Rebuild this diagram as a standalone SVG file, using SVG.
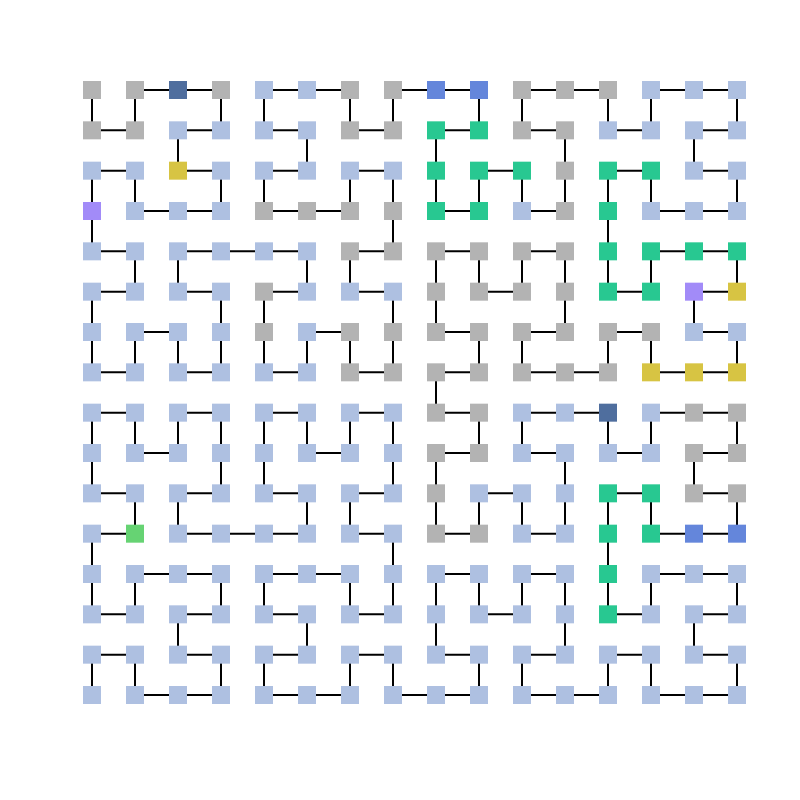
<svg xmlns="http://www.w3.org/2000/svg" width="800" height="800" viewBox="0 0 800 800">
<style>
#edges line{stroke:#000;stroke-width:2}
rect{width:18px;height:18px}
.G{fill:#b3b3b3}.L{fill:#aec0e1}.D{fill:#4f6e9e}.B{fill:#6486db}.T{fill:#28c891}.Y{fill:#d7c443}.P{fill:#a28bf8}.E{fill:#66d373}
</style>
<rect width="800" height="800" fill="#fff" style="width:800px;height:800px"/>
<g id="edges">
<line x1="135" y1="90" x2="178" y2="90"/><line x1="178" y1="90" x2="221" y2="90"/><line x1="264" y1="90" x2="307" y2="90"/><line x1="307" y1="90" x2="350" y2="90"/><line x1="393" y1="90" x2="436" y2="90"/><line x1="436" y1="90" x2="479" y2="90"/><line x1="522" y1="90" x2="565" y2="90"/><line x1="565" y1="90" x2="608" y2="90"/><line x1="651" y1="90" x2="694" y2="90"/><line x1="694" y1="90" x2="737" y2="90"/>
<line x1="92" y1="130.33" x2="135" y2="130.33"/><line x1="178" y1="130.33" x2="221" y2="130.33"/><line x1="264" y1="130.33" x2="307" y2="130.33"/><line x1="350" y1="130.33" x2="393" y2="130.33"/><line x1="436" y1="130.33" x2="479" y2="130.33"/><line x1="522" y1="130.33" x2="565" y2="130.33"/><line x1="608" y1="130.33" x2="651" y2="130.33"/><line x1="694" y1="130.33" x2="737" y2="130.33"/>
<line x1="92" y1="170.67" x2="135" y2="170.67"/><line x1="178" y1="170.67" x2="221" y2="170.67"/><line x1="264" y1="170.67" x2="307" y2="170.67"/><line x1="350" y1="170.67" x2="393" y2="170.67"/><line x1="479" y1="170.67" x2="522" y2="170.67"/><line x1="608" y1="170.67" x2="651" y2="170.67"/><line x1="694" y1="170.67" x2="737" y2="170.67"/>
<line x1="135" y1="211" x2="178" y2="211"/><line x1="178" y1="211" x2="221" y2="211"/><line x1="264" y1="211" x2="307" y2="211"/><line x1="307" y1="211" x2="350" y2="211"/><line x1="436" y1="211" x2="479" y2="211"/><line x1="522" y1="211" x2="565" y2="211"/><line x1="651" y1="211" x2="694" y2="211"/><line x1="694" y1="211" x2="737" y2="211"/>
<line x1="92" y1="251.33" x2="135" y2="251.33"/><line x1="178" y1="251.33" x2="221" y2="251.33"/><line x1="221" y1="251.33" x2="264" y2="251.33"/><line x1="264" y1="251.33" x2="307" y2="251.33"/><line x1="350" y1="251.33" x2="393" y2="251.33"/><line x1="436" y1="251.33" x2="479" y2="251.33"/><line x1="522" y1="251.33" x2="565" y2="251.33"/><line x1="651" y1="251.33" x2="694" y2="251.33"/><line x1="694" y1="251.33" x2="737" y2="251.33"/>
<line x1="92" y1="291.67" x2="135" y2="291.67"/><line x1="178" y1="291.67" x2="221" y2="291.67"/><line x1="264" y1="291.67" x2="307" y2="291.67"/><line x1="350" y1="291.67" x2="393" y2="291.67"/><line x1="479" y1="291.67" x2="522" y2="291.67"/><line x1="608" y1="291.67" x2="651" y2="291.67"/><line x1="694" y1="291.67" x2="737" y2="291.67"/>
<line x1="135" y1="332" x2="178" y2="332"/><line x1="307" y1="332" x2="350" y2="332"/><line x1="436" y1="332" x2="479" y2="332"/><line x1="522" y1="332" x2="565" y2="332"/><line x1="608" y1="332" x2="651" y2="332"/><line x1="694" y1="332" x2="737" y2="332"/>
<line x1="92" y1="372.33" x2="135" y2="372.33"/><line x1="178" y1="372.33" x2="221" y2="372.33"/><line x1="264" y1="372.33" x2="307" y2="372.33"/><line x1="350" y1="372.33" x2="393" y2="372.33"/><line x1="436" y1="372.33" x2="479" y2="372.33"/><line x1="522" y1="372.33" x2="565" y2="372.33"/><line x1="565" y1="372.33" x2="608" y2="372.33"/><line x1="651" y1="372.33" x2="694" y2="372.33"/><line x1="694" y1="372.33" x2="737" y2="372.33"/>
<line x1="92" y1="412.67" x2="135" y2="412.67"/><line x1="178" y1="412.67" x2="221" y2="412.67"/><line x1="264" y1="412.67" x2="307" y2="412.67"/><line x1="350" y1="412.67" x2="393" y2="412.67"/><line x1="436" y1="412.67" x2="479" y2="412.67"/><line x1="522" y1="412.67" x2="565" y2="412.67"/><line x1="565" y1="412.67" x2="608" y2="412.67"/><line x1="651" y1="412.67" x2="694" y2="412.67"/><line x1="694" y1="412.67" x2="737" y2="412.67"/>
<line x1="135" y1="453" x2="178" y2="453"/><line x1="307" y1="453" x2="350" y2="453"/><line x1="436" y1="453" x2="479" y2="453"/><line x1="522" y1="453" x2="565" y2="453"/><line x1="608" y1="453" x2="651" y2="453"/><line x1="694" y1="453" x2="737" y2="453"/>
<line x1="92" y1="493.33" x2="135" y2="493.33"/><line x1="178" y1="493.33" x2="221" y2="493.33"/><line x1="264" y1="493.33" x2="307" y2="493.33"/><line x1="350" y1="493.33" x2="393" y2="493.33"/><line x1="479" y1="493.33" x2="522" y2="493.33"/><line x1="608" y1="493.33" x2="651" y2="493.33"/><line x1="694" y1="493.33" x2="737" y2="493.33"/>
<line x1="92" y1="533.67" x2="135" y2="533.67"/><line x1="178" y1="533.67" x2="221" y2="533.67"/><line x1="221" y1="533.67" x2="264" y2="533.67"/><line x1="264" y1="533.67" x2="307" y2="533.67"/><line x1="350" y1="533.67" x2="393" y2="533.67"/><line x1="436" y1="533.67" x2="479" y2="533.67"/><line x1="522" y1="533.67" x2="565" y2="533.67"/><line x1="651" y1="533.67" x2="694" y2="533.67"/><line x1="694" y1="533.67" x2="737" y2="533.67"/>
<line x1="135" y1="574" x2="178" y2="574"/><line x1="178" y1="574" x2="221" y2="574"/><line x1="264" y1="574" x2="307" y2="574"/><line x1="307" y1="574" x2="350" y2="574"/><line x1="436" y1="574" x2="479" y2="574"/><line x1="522" y1="574" x2="565" y2="574"/><line x1="651" y1="574" x2="694" y2="574"/><line x1="694" y1="574" x2="737" y2="574"/>
<line x1="92" y1="614.33" x2="135" y2="614.33"/><line x1="178" y1="614.33" x2="221" y2="614.33"/><line x1="264" y1="614.33" x2="307" y2="614.33"/><line x1="350" y1="614.33" x2="393" y2="614.33"/><line x1="479" y1="614.33" x2="522" y2="614.33"/><line x1="608" y1="614.33" x2="651" y2="614.33"/><line x1="694" y1="614.33" x2="737" y2="614.33"/>
<line x1="92" y1="654.67" x2="135" y2="654.67"/><line x1="178" y1="654.67" x2="221" y2="654.67"/><line x1="264" y1="654.67" x2="307" y2="654.67"/><line x1="350" y1="654.67" x2="393" y2="654.67"/><line x1="436" y1="654.67" x2="479" y2="654.67"/><line x1="522" y1="654.67" x2="565" y2="654.67"/><line x1="608" y1="654.67" x2="651" y2="654.67"/><line x1="694" y1="654.67" x2="737" y2="654.67"/>
<line x1="135" y1="695" x2="178" y2="695"/><line x1="178" y1="695" x2="221" y2="695"/><line x1="264" y1="695" x2="307" y2="695"/><line x1="307" y1="695" x2="350" y2="695"/><line x1="393" y1="695" x2="436" y2="695"/><line x1="436" y1="695" x2="479" y2="695"/><line x1="522" y1="695" x2="565" y2="695"/><line x1="565" y1="695" x2="608" y2="695"/><line x1="651" y1="695" x2="694" y2="695"/><line x1="694" y1="695" x2="737" y2="695"/>
<line x1="92" y1="90" x2="92" y2="130.33"/><line x1="135" y1="90" x2="135" y2="130.33"/><line x1="221" y1="90" x2="221" y2="130.33"/><line x1="264" y1="90" x2="264" y2="130.33"/><line x1="350" y1="90" x2="350" y2="130.33"/><line x1="393" y1="90" x2="393" y2="130.33"/><line x1="479" y1="90" x2="479" y2="130.33"/><line x1="522" y1="90" x2="522" y2="130.33"/><line x1="608" y1="90" x2="608" y2="130.33"/><line x1="651" y1="90" x2="651" y2="130.33"/><line x1="737" y1="90" x2="737" y2="130.33"/>
<line x1="178" y1="130.33" x2="178" y2="170.67"/><line x1="307" y1="130.33" x2="307" y2="170.67"/><line x1="436" y1="130.33" x2="436" y2="170.67"/><line x1="565" y1="130.33" x2="565" y2="170.67"/><line x1="694" y1="130.33" x2="694" y2="170.67"/>
<line x1="92" y1="170.67" x2="92" y2="211"/><line x1="135" y1="170.67" x2="135" y2="211"/><line x1="221" y1="170.67" x2="221" y2="211"/><line x1="264" y1="170.67" x2="264" y2="211"/><line x1="350" y1="170.67" x2="350" y2="211"/><line x1="393" y1="170.67" x2="393" y2="211"/><line x1="436" y1="170.67" x2="436" y2="211"/><line x1="479" y1="170.67" x2="479" y2="211"/><line x1="522" y1="170.67" x2="522" y2="211"/><line x1="565" y1="170.67" x2="565" y2="211"/><line x1="608" y1="170.67" x2="608" y2="211"/><line x1="651" y1="170.67" x2="651" y2="211"/><line x1="737" y1="170.67" x2="737" y2="211"/>
<line x1="92" y1="211" x2="92" y2="251.33"/><line x1="393" y1="211" x2="393" y2="251.33"/><line x1="608" y1="211" x2="608" y2="251.33"/>
<line x1="135" y1="251.33" x2="135" y2="291.67"/><line x1="178" y1="251.33" x2="178" y2="291.67"/><line x1="307" y1="251.33" x2="307" y2="291.67"/><line x1="350" y1="251.33" x2="350" y2="291.67"/><line x1="436" y1="251.33" x2="436" y2="291.67"/><line x1="479" y1="251.33" x2="479" y2="291.67"/><line x1="522" y1="251.33" x2="522" y2="291.67"/><line x1="565" y1="251.33" x2="565" y2="291.67"/><line x1="608" y1="251.33" x2="608" y2="291.67"/><line x1="651" y1="251.33" x2="651" y2="291.67"/><line x1="737" y1="251.33" x2="737" y2="291.67"/>
<line x1="92" y1="291.67" x2="92" y2="332"/><line x1="221" y1="291.67" x2="221" y2="332"/><line x1="264" y1="291.67" x2="264" y2="332"/><line x1="393" y1="291.67" x2="393" y2="332"/><line x1="436" y1="291.67" x2="436" y2="332"/><line x1="565" y1="291.67" x2="565" y2="332"/><line x1="694" y1="291.67" x2="694" y2="332"/>
<line x1="92" y1="332" x2="92" y2="372.33"/><line x1="135" y1="332" x2="135" y2="372.33"/><line x1="178" y1="332" x2="178" y2="372.33"/><line x1="221" y1="332" x2="221" y2="372.33"/><line x1="264" y1="332" x2="264" y2="372.33"/><line x1="307" y1="332" x2="307" y2="372.33"/><line x1="350" y1="332" x2="350" y2="372.33"/><line x1="393" y1="332" x2="393" y2="372.33"/><line x1="479" y1="332" x2="479" y2="372.33"/><line x1="522" y1="332" x2="522" y2="372.33"/><line x1="608" y1="332" x2="608" y2="372.33"/><line x1="651" y1="332" x2="651" y2="372.33"/><line x1="737" y1="332" x2="737" y2="372.33"/>
<line x1="436" y1="372.33" x2="436" y2="412.67"/>
<line x1="92" y1="412.67" x2="92" y2="453"/><line x1="135" y1="412.67" x2="135" y2="453"/><line x1="178" y1="412.67" x2="178" y2="453"/><line x1="221" y1="412.67" x2="221" y2="453"/><line x1="264" y1="412.67" x2="264" y2="453"/><line x1="307" y1="412.67" x2="307" y2="453"/><line x1="350" y1="412.67" x2="350" y2="453"/><line x1="393" y1="412.67" x2="393" y2="453"/><line x1="479" y1="412.67" x2="479" y2="453"/><line x1="522" y1="412.67" x2="522" y2="453"/><line x1="608" y1="412.67" x2="608" y2="453"/><line x1="651" y1="412.67" x2="651" y2="453"/><line x1="737" y1="412.67" x2="737" y2="453"/>
<line x1="92" y1="453" x2="92" y2="493.33"/><line x1="221" y1="453" x2="221" y2="493.33"/><line x1="264" y1="453" x2="264" y2="493.33"/><line x1="393" y1="453" x2="393" y2="493.33"/><line x1="436" y1="453" x2="436" y2="493.33"/><line x1="565" y1="453" x2="565" y2="493.33"/><line x1="694" y1="453" x2="694" y2="493.33"/>
<line x1="135" y1="493.33" x2="135" y2="533.67"/><line x1="178" y1="493.33" x2="178" y2="533.67"/><line x1="307" y1="493.33" x2="307" y2="533.67"/><line x1="350" y1="493.33" x2="350" y2="533.67"/><line x1="436" y1="493.33" x2="436" y2="533.67"/><line x1="479" y1="493.33" x2="479" y2="533.67"/><line x1="522" y1="493.33" x2="522" y2="533.67"/><line x1="565" y1="493.33" x2="565" y2="533.67"/><line x1="608" y1="493.33" x2="608" y2="533.67"/><line x1="651" y1="493.33" x2="651" y2="533.67"/><line x1="737" y1="493.33" x2="737" y2="533.67"/>
<line x1="92" y1="533.67" x2="92" y2="574"/><line x1="393" y1="533.67" x2="393" y2="574"/><line x1="608" y1="533.67" x2="608" y2="574"/>
<line x1="92" y1="574" x2="92" y2="614.33"/><line x1="135" y1="574" x2="135" y2="614.33"/><line x1="221" y1="574" x2="221" y2="614.33"/><line x1="264" y1="574" x2="264" y2="614.33"/><line x1="350" y1="574" x2="350" y2="614.33"/><line x1="393" y1="574" x2="393" y2="614.33"/><line x1="436" y1="574" x2="436" y2="614.33"/><line x1="479" y1="574" x2="479" y2="614.33"/><line x1="522" y1="574" x2="522" y2="614.33"/><line x1="565" y1="574" x2="565" y2="614.33"/><line x1="608" y1="574" x2="608" y2="614.33"/><line x1="651" y1="574" x2="651" y2="614.33"/><line x1="737" y1="574" x2="737" y2="614.33"/>
<line x1="178" y1="614.33" x2="178" y2="654.67"/><line x1="307" y1="614.33" x2="307" y2="654.67"/><line x1="436" y1="614.33" x2="436" y2="654.67"/><line x1="565" y1="614.33" x2="565" y2="654.67"/><line x1="694" y1="614.33" x2="694" y2="654.67"/>
<line x1="92" y1="654.67" x2="92" y2="695"/><line x1="135" y1="654.67" x2="135" y2="695"/><line x1="221" y1="654.67" x2="221" y2="695"/><line x1="264" y1="654.67" x2="264" y2="695"/><line x1="350" y1="654.67" x2="350" y2="695"/><line x1="393" y1="654.67" x2="393" y2="695"/><line x1="479" y1="654.67" x2="479" y2="695"/><line x1="522" y1="654.67" x2="522" y2="695"/><line x1="608" y1="654.67" x2="608" y2="695"/><line x1="651" y1="654.67" x2="651" y2="695"/><line x1="737" y1="654.67" x2="737" y2="695"/>
</g>
<g id="nodes">
<g id="n0-0"><rect class="G" x="83" y="81" width="18" height="18"/></g><g id="n0-1"><rect class="G" x="126" y="81" width="18" height="18"/></g><g id="n0-2"><rect class="D" x="169" y="81" width="18" height="18"/></g><g id="n0-3"><rect class="G" x="212" y="81" width="18" height="18"/></g><g id="n0-4"><rect class="L" x="255" y="81" width="18" height="18"/></g><g id="n0-5"><rect class="L" x="298" y="81" width="18" height="18"/></g><g id="n0-6"><rect class="G" x="341" y="81" width="18" height="18"/></g><g id="n0-7"><rect class="G" x="384" y="81" width="18" height="18"/></g><g id="n0-8"><rect class="B" x="427" y="81" width="18" height="18"/></g><g id="n0-9"><rect class="B" x="470" y="81" width="18" height="18"/></g><g id="n0-10"><rect class="G" x="513" y="81" width="18" height="18"/></g><g id="n0-11"><rect class="G" x="556" y="81" width="18" height="18"/></g><g id="n0-12"><rect class="G" x="599" y="81" width="18" height="18"/></g><g id="n0-13"><rect class="L" x="642" y="81" width="18" height="18"/></g><g id="n0-14"><rect class="L" x="685" y="81" width="18" height="18"/></g><g id="n0-15"><rect class="L" x="728" y="81" width="18" height="18"/></g>
<g id="n1-0"><rect class="G" x="83" y="121.33" width="18" height="18"/></g><g id="n1-1"><rect class="G" x="126" y="121.33" width="18" height="18"/></g><g id="n1-2"><rect class="L" x="169" y="121.33" width="18" height="18"/></g><g id="n1-3"><rect class="L" x="212" y="121.33" width="18" height="18"/></g><g id="n1-4"><rect class="L" x="255" y="121.33" width="18" height="18"/></g><g id="n1-5"><rect class="L" x="298" y="121.33" width="18" height="18"/></g><g id="n1-6"><rect class="G" x="341" y="121.33" width="18" height="18"/></g><g id="n1-7"><rect class="G" x="384" y="121.33" width="18" height="18"/></g><g id="n1-8"><rect class="T" x="427" y="121.33" width="18" height="18"/></g><g id="n1-9"><rect class="T" x="470" y="121.33" width="18" height="18"/></g><g id="n1-10"><rect class="G" x="513" y="121.33" width="18" height="18"/></g><g id="n1-11"><rect class="G" x="556" y="121.33" width="18" height="18"/></g><g id="n1-12"><rect class="L" x="599" y="121.33" width="18" height="18"/></g><g id="n1-13"><rect class="L" x="642" y="121.33" width="18" height="18"/></g><g id="n1-14"><rect class="L" x="685" y="121.33" width="18" height="18"/></g><g id="n1-15"><rect class="L" x="728" y="121.33" width="18" height="18"/></g>
<g id="n2-0"><rect class="L" x="83" y="161.67" width="18" height="18"/></g><g id="n2-1"><rect class="L" x="126" y="161.67" width="18" height="18"/></g><g id="n2-2"><rect class="Y" x="169" y="161.67" width="18" height="18"/></g><g id="n2-3"><rect class="L" x="212" y="161.67" width="18" height="18"/></g><g id="n2-4"><rect class="L" x="255" y="161.67" width="18" height="18"/></g><g id="n2-5"><rect class="L" x="298" y="161.67" width="18" height="18"/></g><g id="n2-6"><rect class="L" x="341" y="161.67" width="18" height="18"/></g><g id="n2-7"><rect class="L" x="384" y="161.67" width="18" height="18"/></g><g id="n2-8"><rect class="T" x="427" y="161.67" width="18" height="18"/></g><g id="n2-9"><rect class="T" x="470" y="161.67" width="18" height="18"/></g><g id="n2-10"><rect class="T" x="513" y="161.67" width="18" height="18"/></g><g id="n2-11"><rect class="G" x="556" y="161.67" width="18" height="18"/></g><g id="n2-12"><rect class="T" x="599" y="161.67" width="18" height="18"/></g><g id="n2-13"><rect class="T" x="642" y="161.67" width="18" height="18"/></g><g id="n2-14"><rect class="L" x="685" y="161.67" width="18" height="18"/></g><g id="n2-15"><rect class="L" x="728" y="161.67" width="18" height="18"/></g>
<g id="n3-0"><rect class="P" x="83" y="202" width="18" height="18"/></g><g id="n3-1"><rect class="L" x="126" y="202" width="18" height="18"/></g><g id="n3-2"><rect class="L" x="169" y="202" width="18" height="18"/></g><g id="n3-3"><rect class="L" x="212" y="202" width="18" height="18"/></g><g id="n3-4"><rect class="G" x="255" y="202" width="18" height="18"/></g><g id="n3-5"><rect class="G" x="298" y="202" width="18" height="18"/></g><g id="n3-6"><rect class="G" x="341" y="202" width="18" height="18"/></g><g id="n3-7"><rect class="G" x="384" y="202" width="18" height="18"/></g><g id="n3-8"><rect class="T" x="427" y="202" width="18" height="18"/></g><g id="n3-9"><rect class="T" x="470" y="202" width="18" height="18"/></g><g id="n3-10"><rect class="L" x="513" y="202" width="18" height="18"/></g><g id="n3-11"><rect class="G" x="556" y="202" width="18" height="18"/></g><g id="n3-12"><rect class="T" x="599" y="202" width="18" height="18"/></g><g id="n3-13"><rect class="L" x="642" y="202" width="18" height="18"/></g><g id="n3-14"><rect class="L" x="685" y="202" width="18" height="18"/></g><g id="n3-15"><rect class="L" x="728" y="202" width="18" height="18"/></g>
<g id="n4-0"><rect class="L" x="83" y="242.33" width="18" height="18"/></g><g id="n4-1"><rect class="L" x="126" y="242.33" width="18" height="18"/></g><g id="n4-2"><rect class="L" x="169" y="242.33" width="18" height="18"/></g><g id="n4-3"><rect class="L" x="212" y="242.33" width="18" height="18"/></g><g id="n4-4"><rect class="L" x="255" y="242.33" width="18" height="18"/></g><g id="n4-5"><rect class="L" x="298" y="242.33" width="18" height="18"/></g><g id="n4-6"><rect class="G" x="341" y="242.33" width="18" height="18"/></g><g id="n4-7"><rect class="G" x="384" y="242.33" width="18" height="18"/></g><g id="n4-8"><rect class="G" x="427" y="242.33" width="18" height="18"/></g><g id="n4-9"><rect class="G" x="470" y="242.33" width="18" height="18"/></g><g id="n4-10"><rect class="G" x="513" y="242.33" width="18" height="18"/></g><g id="n4-11"><rect class="G" x="556" y="242.33" width="18" height="18"/></g><g id="n4-12"><rect class="T" x="599" y="242.33" width="18" height="18"/></g><g id="n4-13"><rect class="T" x="642" y="242.33" width="18" height="18"/></g><g id="n4-14"><rect class="T" x="685" y="242.33" width="18" height="18"/></g><g id="n4-15"><rect class="T" x="728" y="242.33" width="18" height="18"/></g>
<g id="n5-0"><rect class="L" x="83" y="282.67" width="18" height="18"/></g><g id="n5-1"><rect class="L" x="126" y="282.67" width="18" height="18"/></g><g id="n5-2"><rect class="L" x="169" y="282.67" width="18" height="18"/></g><g id="n5-3"><rect class="L" x="212" y="282.67" width="18" height="18"/></g><g id="n5-4"><rect class="G" x="255" y="282.67" width="18" height="18"/></g><g id="n5-5"><rect class="L" x="298" y="282.67" width="18" height="18"/></g><g id="n5-6"><rect class="L" x="341" y="282.67" width="18" height="18"/></g><g id="n5-7"><rect class="L" x="384" y="282.67" width="18" height="18"/></g><g id="n5-8"><rect class="G" x="427" y="282.67" width="18" height="18"/></g><g id="n5-9"><rect class="G" x="470" y="282.67" width="18" height="18"/></g><g id="n5-10"><rect class="G" x="513" y="282.67" width="18" height="18"/></g><g id="n5-11"><rect class="G" x="556" y="282.67" width="18" height="18"/></g><g id="n5-12"><rect class="T" x="599" y="282.67" width="18" height="18"/></g><g id="n5-13"><rect class="T" x="642" y="282.67" width="18" height="18"/></g><g id="n5-14"><rect class="P" x="685" y="282.67" width="18" height="18"/></g><g id="n5-15"><rect class="Y" x="728" y="282.67" width="18" height="18"/></g>
<g id="n6-0"><rect class="L" x="83" y="323" width="18" height="18"/></g><g id="n6-1"><rect class="L" x="126" y="323" width="18" height="18"/></g><g id="n6-2"><rect class="L" x="169" y="323" width="18" height="18"/></g><g id="n6-3"><rect class="L" x="212" y="323" width="18" height="18"/></g><g id="n6-4"><rect class="G" x="255" y="323" width="18" height="18"/></g><g id="n6-5"><rect class="L" x="298" y="323" width="18" height="18"/></g><g id="n6-6"><rect class="G" x="341" y="323" width="18" height="18"/></g><g id="n6-7"><rect class="G" x="384" y="323" width="18" height="18"/></g><g id="n6-8"><rect class="G" x="427" y="323" width="18" height="18"/></g><g id="n6-9"><rect class="G" x="470" y="323" width="18" height="18"/></g><g id="n6-10"><rect class="G" x="513" y="323" width="18" height="18"/></g><g id="n6-11"><rect class="G" x="556" y="323" width="18" height="18"/></g><g id="n6-12"><rect class="G" x="599" y="323" width="18" height="18"/></g><g id="n6-13"><rect class="G" x="642" y="323" width="18" height="18"/></g><g id="n6-14"><rect class="L" x="685" y="323" width="18" height="18"/></g><g id="n6-15"><rect class="L" x="728" y="323" width="18" height="18"/></g>
<g id="n7-0"><rect class="L" x="83" y="363.33" width="18" height="18"/></g><g id="n7-1"><rect class="L" x="126" y="363.33" width="18" height="18"/></g><g id="n7-2"><rect class="L" x="169" y="363.33" width="18" height="18"/></g><g id="n7-3"><rect class="L" x="212" y="363.33" width="18" height="18"/></g><g id="n7-4"><rect class="L" x="255" y="363.33" width="18" height="18"/></g><g id="n7-5"><rect class="L" x="298" y="363.33" width="18" height="18"/></g><g id="n7-6"><rect class="G" x="341" y="363.33" width="18" height="18"/></g><g id="n7-7"><rect class="G" x="384" y="363.33" width="18" height="18"/></g><g id="n7-8"><rect class="G" x="427" y="363.33" width="18" height="18"/></g><g id="n7-9"><rect class="G" x="470" y="363.33" width="18" height="18"/></g><g id="n7-10"><rect class="G" x="513" y="363.33" width="18" height="18"/></g><g id="n7-11"><rect class="G" x="556" y="363.33" width="18" height="18"/></g><g id="n7-12"><rect class="G" x="599" y="363.33" width="18" height="18"/></g><g id="n7-13"><rect class="Y" x="642" y="363.33" width="18" height="18"/></g><g id="n7-14"><rect class="Y" x="685" y="363.33" width="18" height="18"/></g><g id="n7-15"><rect class="Y" x="728" y="363.33" width="18" height="18"/></g>
<g id="n8-0"><rect class="L" x="83" y="403.67" width="18" height="18"/></g><g id="n8-1"><rect class="L" x="126" y="403.67" width="18" height="18"/></g><g id="n8-2"><rect class="L" x="169" y="403.67" width="18" height="18"/></g><g id="n8-3"><rect class="L" x="212" y="403.67" width="18" height="18"/></g><g id="n8-4"><rect class="L" x="255" y="403.67" width="18" height="18"/></g><g id="n8-5"><rect class="L" x="298" y="403.67" width="18" height="18"/></g><g id="n8-6"><rect class="L" x="341" y="403.67" width="18" height="18"/></g><g id="n8-7"><rect class="L" x="384" y="403.67" width="18" height="18"/></g><g id="n8-8"><rect class="G" x="427" y="403.67" width="18" height="18"/></g><g id="n8-9"><rect class="G" x="470" y="403.67" width="18" height="18"/></g><g id="n8-10"><rect class="L" x="513" y="403.67" width="18" height="18"/></g><g id="n8-11"><rect class="L" x="556" y="403.67" width="18" height="18"/></g><g id="n8-12"><rect class="D" x="599" y="403.67" width="18" height="18"/></g><g id="n8-13"><rect class="L" x="642" y="403.67" width="18" height="18"/></g><g id="n8-14"><rect class="G" x="685" y="403.67" width="18" height="18"/></g><g id="n8-15"><rect class="G" x="728" y="403.67" width="18" height="18"/></g>
<g id="n9-0"><rect class="L" x="83" y="444" width="18" height="18"/></g><g id="n9-1"><rect class="L" x="126" y="444" width="18" height="18"/></g><g id="n9-2"><rect class="L" x="169" y="444" width="18" height="18"/></g><g id="n9-3"><rect class="L" x="212" y="444" width="18" height="18"/></g><g id="n9-4"><rect class="L" x="255" y="444" width="18" height="18"/></g><g id="n9-5"><rect class="L" x="298" y="444" width="18" height="18"/></g><g id="n9-6"><rect class="L" x="341" y="444" width="18" height="18"/></g><g id="n9-7"><rect class="L" x="384" y="444" width="18" height="18"/></g><g id="n9-8"><rect class="G" x="427" y="444" width="18" height="18"/></g><g id="n9-9"><rect class="G" x="470" y="444" width="18" height="18"/></g><g id="n9-10"><rect class="L" x="513" y="444" width="18" height="18"/></g><g id="n9-11"><rect class="L" x="556" y="444" width="18" height="18"/></g><g id="n9-12"><rect class="L" x="599" y="444" width="18" height="18"/></g><g id="n9-13"><rect class="L" x="642" y="444" width="18" height="18"/></g><g id="n9-14"><rect class="G" x="685" y="444" width="18" height="18"/></g><g id="n9-15"><rect class="G" x="728" y="444" width="18" height="18"/></g>
<g id="n10-0"><rect class="L" x="83" y="484.33" width="18" height="18"/></g><g id="n10-1"><rect class="L" x="126" y="484.33" width="18" height="18"/></g><g id="n10-2"><rect class="L" x="169" y="484.33" width="18" height="18"/></g><g id="n10-3"><rect class="L" x="212" y="484.33" width="18" height="18"/></g><g id="n10-4"><rect class="L" x="255" y="484.33" width="18" height="18"/></g><g id="n10-5"><rect class="L" x="298" y="484.33" width="18" height="18"/></g><g id="n10-6"><rect class="L" x="341" y="484.33" width="18" height="18"/></g><g id="n10-7"><rect class="L" x="384" y="484.33" width="18" height="18"/></g><g id="n10-8"><rect class="G" x="427" y="484.33" width="18" height="18"/></g><g id="n10-9"><rect class="L" x="470" y="484.33" width="18" height="18"/></g><g id="n10-10"><rect class="L" x="513" y="484.33" width="18" height="18"/></g><g id="n10-11"><rect class="L" x="556" y="484.33" width="18" height="18"/></g><g id="n10-12"><rect class="T" x="599" y="484.33" width="18" height="18"/></g><g id="n10-13"><rect class="T" x="642" y="484.33" width="18" height="18"/></g><g id="n10-14"><rect class="G" x="685" y="484.33" width="18" height="18"/></g><g id="n10-15"><rect class="G" x="728" y="484.33" width="18" height="18"/></g>
<g id="n11-0"><rect class="L" x="83" y="524.67" width="18" height="18"/></g><g id="n11-1"><rect class="E" x="126" y="524.67" width="18" height="18"/></g><g id="n11-2"><rect class="L" x="169" y="524.67" width="18" height="18"/></g><g id="n11-3"><rect class="L" x="212" y="524.67" width="18" height="18"/></g><g id="n11-4"><rect class="L" x="255" y="524.67" width="18" height="18"/></g><g id="n11-5"><rect class="L" x="298" y="524.67" width="18" height="18"/></g><g id="n11-6"><rect class="L" x="341" y="524.67" width="18" height="18"/></g><g id="n11-7"><rect class="L" x="384" y="524.67" width="18" height="18"/></g><g id="n11-8"><rect class="G" x="427" y="524.67" width="18" height="18"/></g><g id="n11-9"><rect class="G" x="470" y="524.67" width="18" height="18"/></g><g id="n11-10"><rect class="L" x="513" y="524.67" width="18" height="18"/></g><g id="n11-11"><rect class="L" x="556" y="524.67" width="18" height="18"/></g><g id="n11-12"><rect class="T" x="599" y="524.67" width="18" height="18"/></g><g id="n11-13"><rect class="T" x="642" y="524.67" width="18" height="18"/></g><g id="n11-14"><rect class="B" x="685" y="524.67" width="18" height="18"/></g><g id="n11-15"><rect class="B" x="728" y="524.67" width="18" height="18"/></g>
<g id="n12-0"><rect class="L" x="83" y="565" width="18" height="18"/></g><g id="n12-1"><rect class="L" x="126" y="565" width="18" height="18"/></g><g id="n12-2"><rect class="L" x="169" y="565" width="18" height="18"/></g><g id="n12-3"><rect class="L" x="212" y="565" width="18" height="18"/></g><g id="n12-4"><rect class="L" x="255" y="565" width="18" height="18"/></g><g id="n12-5"><rect class="L" x="298" y="565" width="18" height="18"/></g><g id="n12-6"><rect class="L" x="341" y="565" width="18" height="18"/></g><g id="n12-7"><rect class="L" x="384" y="565" width="18" height="18"/></g><g id="n12-8"><rect class="L" x="427" y="565" width="18" height="18"/></g><g id="n12-9"><rect class="L" x="470" y="565" width="18" height="18"/></g><g id="n12-10"><rect class="L" x="513" y="565" width="18" height="18"/></g><g id="n12-11"><rect class="L" x="556" y="565" width="18" height="18"/></g><g id="n12-12"><rect class="T" x="599" y="565" width="18" height="18"/></g><g id="n12-13"><rect class="L" x="642" y="565" width="18" height="18"/></g><g id="n12-14"><rect class="L" x="685" y="565" width="18" height="18"/></g><g id="n12-15"><rect class="L" x="728" y="565" width="18" height="18"/></g>
<g id="n13-0"><rect class="L" x="83" y="605.33" width="18" height="18"/></g><g id="n13-1"><rect class="L" x="126" y="605.33" width="18" height="18"/></g><g id="n13-2"><rect class="L" x="169" y="605.33" width="18" height="18"/></g><g id="n13-3"><rect class="L" x="212" y="605.33" width="18" height="18"/></g><g id="n13-4"><rect class="L" x="255" y="605.33" width="18" height="18"/></g><g id="n13-5"><rect class="L" x="298" y="605.33" width="18" height="18"/></g><g id="n13-6"><rect class="L" x="341" y="605.33" width="18" height="18"/></g><g id="n13-7"><rect class="L" x="384" y="605.33" width="18" height="18"/></g><g id="n13-8"><rect class="L" x="427" y="605.33" width="18" height="18"/></g><g id="n13-9"><rect class="L" x="470" y="605.33" width="18" height="18"/></g><g id="n13-10"><rect class="L" x="513" y="605.33" width="18" height="18"/></g><g id="n13-11"><rect class="L" x="556" y="605.33" width="18" height="18"/></g><g id="n13-12"><rect class="T" x="599" y="605.33" width="18" height="18"/></g><g id="n13-13"><rect class="L" x="642" y="605.33" width="18" height="18"/></g><g id="n13-14"><rect class="L" x="685" y="605.33" width="18" height="18"/></g><g id="n13-15"><rect class="L" x="728" y="605.33" width="18" height="18"/></g>
<g id="n14-0"><rect class="L" x="83" y="645.67" width="18" height="18"/></g><g id="n14-1"><rect class="L" x="126" y="645.67" width="18" height="18"/></g><g id="n14-2"><rect class="L" x="169" y="645.67" width="18" height="18"/></g><g id="n14-3"><rect class="L" x="212" y="645.67" width="18" height="18"/></g><g id="n14-4"><rect class="L" x="255" y="645.67" width="18" height="18"/></g><g id="n14-5"><rect class="L" x="298" y="645.67" width="18" height="18"/></g><g id="n14-6"><rect class="L" x="341" y="645.67" width="18" height="18"/></g><g id="n14-7"><rect class="L" x="384" y="645.67" width="18" height="18"/></g><g id="n14-8"><rect class="L" x="427" y="645.67" width="18" height="18"/></g><g id="n14-9"><rect class="L" x="470" y="645.67" width="18" height="18"/></g><g id="n14-10"><rect class="L" x="513" y="645.67" width="18" height="18"/></g><g id="n14-11"><rect class="L" x="556" y="645.67" width="18" height="18"/></g><g id="n14-12"><rect class="L" x="599" y="645.67" width="18" height="18"/></g><g id="n14-13"><rect class="L" x="642" y="645.67" width="18" height="18"/></g><g id="n14-14"><rect class="L" x="685" y="645.67" width="18" height="18"/></g><g id="n14-15"><rect class="L" x="728" y="645.67" width="18" height="18"/></g>
<g id="n15-0"><rect class="L" x="83" y="686" width="18" height="18"/></g><g id="n15-1"><rect class="L" x="126" y="686" width="18" height="18"/></g><g id="n15-2"><rect class="L" x="169" y="686" width="18" height="18"/></g><g id="n15-3"><rect class="L" x="212" y="686" width="18" height="18"/></g><g id="n15-4"><rect class="L" x="255" y="686" width="18" height="18"/></g><g id="n15-5"><rect class="L" x="298" y="686" width="18" height="18"/></g><g id="n15-6"><rect class="L" x="341" y="686" width="18" height="18"/></g><g id="n15-7"><rect class="L" x="384" y="686" width="18" height="18"/></g><g id="n15-8"><rect class="L" x="427" y="686" width="18" height="18"/></g><g id="n15-9"><rect class="L" x="470" y="686" width="18" height="18"/></g><g id="n15-10"><rect class="L" x="513" y="686" width="18" height="18"/></g><g id="n15-11"><rect class="L" x="556" y="686" width="18" height="18"/></g><g id="n15-12"><rect class="L" x="599" y="686" width="18" height="18"/></g><g id="n15-13"><rect class="L" x="642" y="686" width="18" height="18"/></g><g id="n15-14"><rect class="L" x="685" y="686" width="18" height="18"/></g><g id="n15-15"><rect class="L" x="728" y="686" width="18" height="18"/></g>
</g>
</svg>
